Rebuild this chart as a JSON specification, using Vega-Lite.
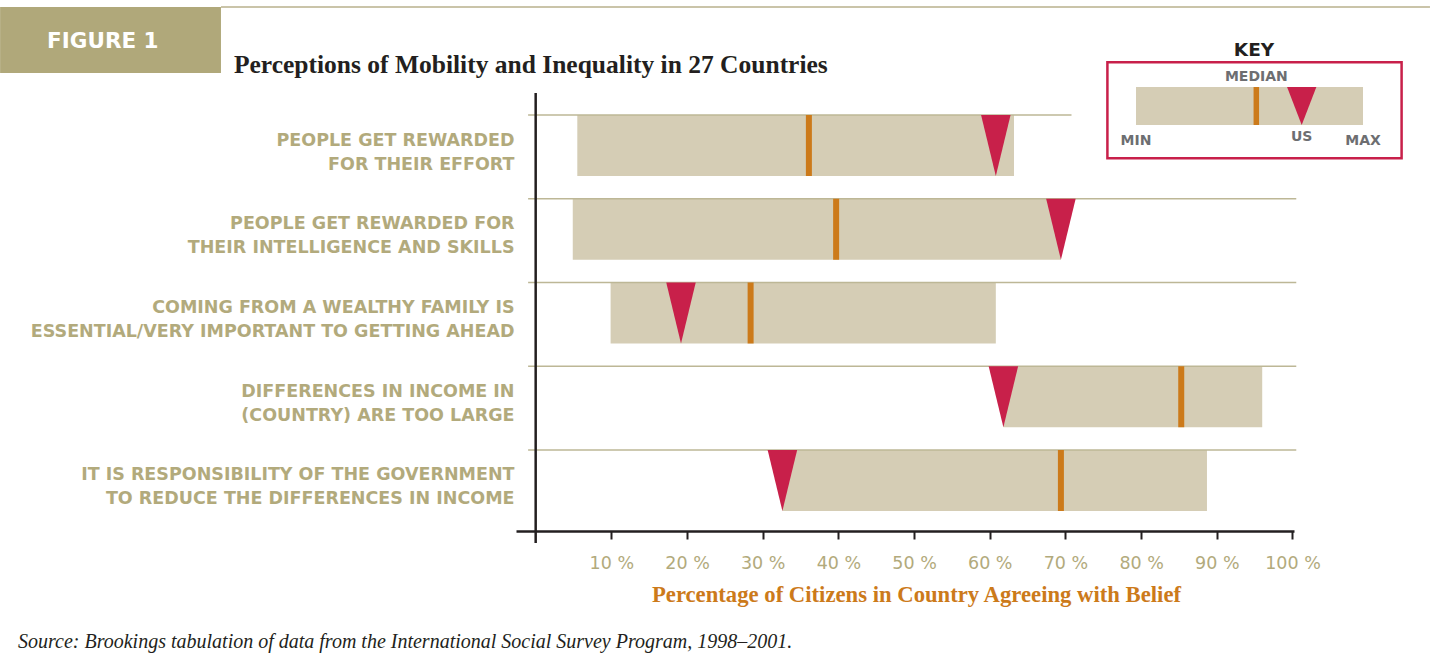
{
  "$schema": "https://vega.github.io/schema/vega-lite/v6.json",
  "width": 778,
  "height": 450,
  "autosize": {"type": "none"},
  "padding": {"left": 516, "top": 93, "right": 136, "bottom": 119},
  "background": "white",
  "config": {"view": {"stroke": null}},
  "datasets": {
    "beliefs": [
      {"belief": "PEOPLE GET REWARDED\nFOR THEIR EFFORT", "min": 5.5, "median": 36.1, "us": 60.8, "max": 63.2},
      {"belief": "PEOPLE GET REWARDED FOR\nTHEIR INTELLIGENCE AND SKILLS", "min": 4.9, "median": 39.7, "us": 69.4, "max": 69.4},
      {"belief": "COMING FROM A WEALTHY FAMILY IS\nESSENTIAL/VERY IMPORTANT TO GETTING AHEAD", "min": 9.9, "median": 28.4, "us": 19.2, "max": 60.8},
      {"belief": "DIFFERENCES IN INCOME  IN\n(COUNTRY) ARE TOO LARGE", "min": 61.8, "median": 85.3, "us": 61.8, "max": 96.0},
      {"belief": "IT IS RESPONSIBILITY OF THE GOVERNMENT\nTO REDUCE THE DIFFERENCES IN INCOME", "min": 32.6, "median": 69.4, "us": 32.6, "max": 88.7}
    ],
    "key": [{"min": 0, "median": 53, "us": 73, "max": 100}],
    "notes": [
      {"item": "figure", "text": "FIGURE 1"},
      {"item": "title", "text": "Perceptions of Mobility and Inequality in 27 Countries"},
      {"item": "source", "text": "Source: Brookings tabulation of data from the International Social Survey Program, 1998–2001."},
      {"item": "keytitle", "text": "KEY"},
      {"item": "frame", "text": ""}
    ]
  },
  "resolve": {"scale": {"x": "independent", "y": "independent"}},
  "layer": [
    {
      "data": {"name": "beliefs"},
      "layer": [
        {
          "mark": {"type": "bar", "color": "#D5CDB5"},
          "encoding": {
            "y": {
              "field": "belief", "type": "nominal", "sort": null,
              "scale": {"type": "band", "paddingInner": 0.2716, "paddingOuter": 0.3224, "align": 0.4074},
              "axis": {
                "title": null, "domain": false, "ticks": false, "grid": false,
                "labelExpr": "split(datum.value, '\\n')",
                "labelFont": "DejaVu Sans", "labelFontWeight": "bold", "labelFontSize": 17.5,
                "labelColor": "#B2AA7C", "labelLineHeight": 24, "labelOffset": -5,
                "labelPadding": 2, "labelLimit": 700, "labelBaseline": "middle"
              }
            },
            "x": {
              "field": "min", "type": "quantitative",
              "scale": {"domain": [-2.6, 100.2], "nice": false, "zero": false},
              "axis": {
                "values": [10, 20, 30, 40, 50, 60, 70, 80, 90, 100],
                "labelExpr": "datum.value + ' %'",
                "offset": -12, "grid": false,
                "tickSize": 8, "tickWidth": 2, "tickColor": "#231F20",
                "domainColor": "#231F20", "domainWidth": 2.5,
                "labelFont": "DejaVu Sans", "labelFontSize": 17.5, "labelColor": "#B2AA7C",
                "labelPadding": 15, "labelFlush": false, "labelOverlap": false,
                "title": "Percentage of Citizens in Country Agreeing with Belief",
                "titleFont": "Liberation Serif", "titleFontSize": 22.7, "titleFontWeight": "bold",
                "titleColor": "#CC7A1A", "titleX": 400, "titleY": 70, "titleBaseline": "alphabetic"
              }
            },
            "x2": {"field": "max"}
          }
        },
        {
          "transform": [{"filter": {"not": {"field": "belief", "equal": "PEOPLE GET REWARDED\nFOR THEIR EFFORT"}}}],
          "mark": {"type": "rule", "color": "#BDB796", "strokeWidth": 1.5},
          "encoding": {
            "y": {"field": "belief", "type": "nominal", "sort": null, "bandPosition": 0},
            "x": {"datum": -1, "type": "quantitative"},
            "x2": {"datum": 100.5}
          }
        },
        {
          "transform": [{"filter": {"field": "belief", "equal": "PEOPLE GET REWARDED\nFOR THEIR EFFORT"}}],
          "mark": {"type": "rule", "color": "#BDB796", "strokeWidth": 1.5},
          "encoding": {
            "y": {"field": "belief", "type": "nominal", "sort": null, "bandPosition": 0},
            "x": {"datum": -1, "type": "quantitative"},
            "x2": {"datum": 70.8}
          }
        },
        {
          "mark": {"type": "tick", "color": "#CC7A1A", "thickness": 6, "size": 61, "opacity": 1},
          "encoding": {
            "y": {"field": "belief", "type": "nominal", "sort": null},
            "x": {"field": "median", "type": "quantitative"}
          }
        },
        {
          "mark": {"type": "point", "shape": "M-0.4836,-1L0.4836,-1L0,1Z", "size": 3721, "filled": true, "color": "#C8204A", "opacity": 1, "strokeWidth": 0},
          "encoding": {
            "y": {"field": "belief", "type": "nominal", "sort": null},
            "x": {"field": "us", "type": "quantitative"}
          }
        },
        {
          "data": {"values": [{"line": "vertical axis"}]},
          "mark": {"type": "rule", "color": "#231F20", "strokeWidth": 2.5},
          "encoding": {
            "x": {"datum": 0, "type": "quantitative"}
          }
        }
      ]
    },
    {
      "layer": [
        {
          "data": {"name": "notes"},
          "transform": [{"filter": "datum.item == 'frame'"}],
          "mark": {"type": "rect", "filled": false, "color": "#C8204A", "strokeWidth": 2.5},
          "encoding": {
            "x": {"datum": -12.6, "type": "quantitative", "scale": {"domain": [-273.13, 69.6], "nice": false, "zero": false}, "axis": null},
            "x2": {"datum": 117},
            "y": {"datum": 1.65, "type": "quantitative", "scale": {"domain": [-11.0, 0.8421], "nice": false, "zero": false}, "axis": null},
            "y2": {"datum": -0.876}
          }
        },
        {
          "data": {"name": "notes"},
          "transform": [{"filter": "datum.item == 'figure'"}],
          "mark": {"type": "rect", "color": "#B0A87A"},
          "encoding": {
            "x": {"datum": -500.4, "type": "quantitative", "scale": {"domain": [-273.13, 69.6], "nice": false, "zero": false}, "axis": null},
            "x2": {"datum": -403.1},
            "y": {"datum": 3.105, "type": "quantitative", "scale": {"domain": [-11.0, 0.8421], "nice": false, "zero": false}, "axis": null},
            "y2": {"datum": 1.368}
          }
        },
        {
          "data": {"name": "notes"},
          "transform": [{"filter": "datum.item == 'figure'"}],
          "mark": {"type": "rule", "color": "#B8B18C", "strokeWidth": 1.5},
          "encoding": {
            "x": {"datum": -403.1, "type": "quantitative", "scale": {"domain": [-273.13, 69.6], "nice": false, "zero": false}, "axis": null},
            "x2": {"datum": 129.5},
            "y": {"datum": 3.105, "type": "quantitative", "scale": {"domain": [-11.0, 0.8421], "nice": false, "zero": false}, "axis": null}
          }
        },
        {
          "data": {"name": "notes"},
          "transform": [{"filter": "datum.item == 'figure'"}],
          "mark": {"type": "text", "align": "left", "baseline": "alphabetic", "font": "DejaVu Sans", "fontWeight": "bold", "fontSize": 21.5, "color": "white"},
          "encoding": {
            "x": {"datum": -479.7, "type": "quantitative", "scale": {"domain": [-273.13, 69.6], "nice": false, "zero": false}, "axis": null},
            "y": {"datum": 2.018, "type": "quantitative", "scale": {"domain": [-11.0, 0.8421], "nice": false, "zero": false}, "axis": null},
            "text": {"field": "text"}
          }
        },
        {
          "data": {"name": "notes"},
          "transform": [{"filter": "datum.item == 'title'"}],
          "mark": {"type": "text", "align": "left", "baseline": "alphabetic", "font": "Liberation Serif", "fontWeight": "bold", "fontSize": 25.5, "color": "#231F20"},
          "encoding": {
            "x": {"datum": -397.4, "type": "quantitative", "scale": {"domain": [-273.13, 69.6], "nice": false, "zero": false}, "axis": null},
            "y": {"datum": 1.368, "type": "quantitative", "scale": {"domain": [-11.0, 0.8421], "nice": false, "zero": false}, "axis": null},
            "text": {"field": "text"}
          }
        },
        {
          "data": {"name": "notes"},
          "transform": [{"filter": "datum.item == 'source'"}],
          "mark": {"type": "text", "align": "left", "baseline": "alphabetic", "font": "Liberation Serif", "fontStyle": "italic", "fontSize": 20, "color": "#231F20"},
          "encoding": {
            "x": {"datum": -492.5, "type": "quantitative", "scale": {"domain": [-273.13, 69.6], "nice": false, "zero": false}, "axis": null},
            "y": {"datum": -13.76, "type": "quantitative", "scale": {"domain": [-11.0, 0.8421], "nice": false, "zero": false}, "axis": null},
            "text": {"field": "text"}
          }
        },
        {
          "data": {"name": "notes"},
          "transform": [{"filter": "datum.item == 'keytitle'"}],
          "mark": {"type": "text", "align": "center", "baseline": "alphabetic", "font": "DejaVu Sans", "fontWeight": "bold", "fontSize": 18.5, "color": "#231F20"},
          "encoding": {
            "x": {"datum": 52, "type": "quantitative", "scale": {"domain": [-273.13, 69.6], "nice": false, "zero": false}, "axis": null},
            "y": {"datum": 1.816, "type": "quantitative", "scale": {"domain": [-11.0, 0.8421], "nice": false, "zero": false}, "axis": null},
            "text": {"field": "text"}
          }
        },
        {
          "data": {"name": "key"},
          "mark": {"type": "rect", "color": "#D5CDB5"},
          "encoding": {
            "x": {"field": "min", "type": "quantitative", "scale": {"domain": [-273.13, 69.6], "nice": false, "zero": false}, "axis": null},
            "x2": {"field": "max"},
            "y": {"datum": 0, "type": "quantitative", "scale": {"domain": [-11.0, 0.8421], "nice": false, "zero": false}, "axis": null},
            "y2": {"datum": 1}
          }
        },
        {
          "data": {"name": "key"},
          "mark": {"type": "rule", "color": "#CC7A1A", "strokeWidth": 5.5},
          "encoding": {
            "x": {"field": "median", "type": "quantitative", "scale": {"domain": [-273.13, 69.6], "nice": false, "zero": false}, "axis": null},
            "y": {"datum": 0, "type": "quantitative", "scale": {"domain": [-11.0, 0.8421], "nice": false, "zero": false}, "axis": null},
            "y2": {"datum": 1}
          }
        },
        {
          "data": {"name": "key"},
          "mark": {"type": "point", "shape": "M-0.771,-1L0.771,-1L0,1Z", "size": 1444, "filled": true, "color": "#C8204A", "opacity": 1, "strokeWidth": 0},
          "encoding": {
            "x": {"field": "us", "type": "quantitative", "scale": {"domain": [-273.13, 69.6], "nice": false, "zero": false}, "axis": null},
            "y": {"datum": 0.5, "type": "quantitative", "scale": {"domain": [-11.0, 0.8421], "nice": false, "zero": false}, "axis": null}
          }
        },
        {
          "data": {"name": "key"},
          "mark": {"type": "text", "align": "center", "baseline": "alphabetic", "font": "DejaVu Sans", "fontWeight": "bold", "fontSize": 14, "color": "#6D6E71"},
          "encoding": {
            "x": {"field": "median", "type": "quantitative", "scale": {"domain": [-273.13, 69.6], "nice": false, "zero": false}, "axis": null},
            "y": {"datum": 1.166, "type": "quantitative", "scale": {"domain": [-11.0, 0.8421], "nice": false, "zero": false}, "axis": null},
            "text": {"value": "MEDIAN"}
          }
        },
        {
          "data": {"name": "key"},
          "mark": {"type": "text", "align": "center", "baseline": "alphabetic", "font": "DejaVu Sans", "fontWeight": "bold", "fontSize": 14, "color": "#6D6E71"},
          "encoding": {
            "x": {"field": "min", "type": "quantitative", "scale": {"domain": [-273.13, 69.6], "nice": false, "zero": false}, "axis": null},
            "y": {"datum": -0.526, "type": "quantitative", "scale": {"domain": [-11.0, 0.8421], "nice": false, "zero": false}, "axis": null},
            "text": {"value": "MIN"}
          }
        },
        {
          "data": {"name": "key"},
          "mark": {"type": "text", "align": "center", "baseline": "alphabetic", "font": "DejaVu Sans", "fontWeight": "bold", "fontSize": 14, "color": "#6D6E71"},
          "encoding": {
            "x": {"field": "max", "type": "quantitative", "scale": {"domain": [-273.13, 69.6], "nice": false, "zero": false}, "axis": null},
            "y": {"datum": -0.526, "type": "quantitative", "scale": {"domain": [-11.0, 0.8421], "nice": false, "zero": false}, "axis": null},
            "text": {"value": "MAX"}
          }
        },
        {
          "data": {"name": "key"},
          "mark": {"type": "text", "align": "center", "baseline": "alphabetic", "font": "DejaVu Sans", "fontWeight": "bold", "fontSize": 14, "color": "#6D6E71"},
          "encoding": {
            "x": {"field": "us", "type": "quantitative", "scale": {"domain": [-273.13, 69.6], "nice": false, "zero": false}, "axis": null},
            "y": {"datum": -0.421, "type": "quantitative", "scale": {"domain": [-11.0, 0.8421], "nice": false, "zero": false}, "axis": null},
            "text": {"value": "US"}
          }
        }
      ]
    }
  ]
}
